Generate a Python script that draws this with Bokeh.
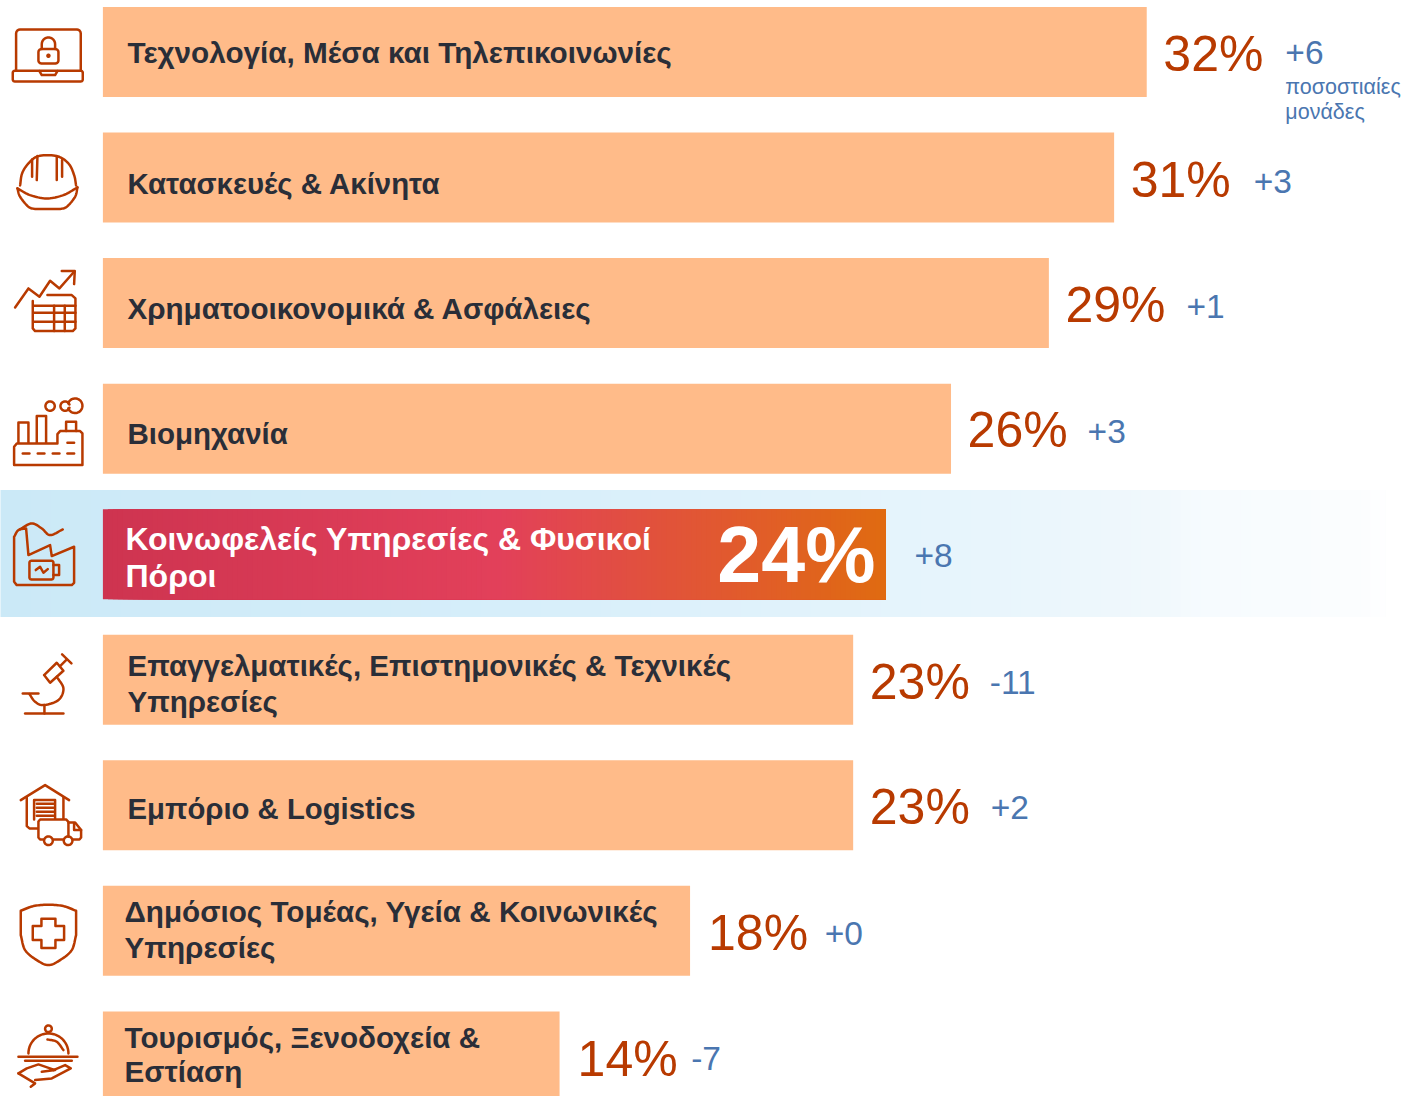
import numpy as np
from bokeh.embed import file_html
from bokeh.resources import INLINE
from bokeh.plotting import figure
from bokeh.models import Range1d, ColumnDataSource
from bokeh.core.properties import value

categories = ["Τεχνολογία, Μέσα και Τηλεπικοινωνίες", "Κατασκευές & Ακίνητα", "Χρηματοοικονομικά & Ασφάλειες",
              "Βιομηχανία", "Κοινωφελείς Υπηρεσίες & Φυσικοί\nΠόροι",
              "Επαγγελματικές, Επιστημονικές & Τεχνικές\nΥπηρεσίες", "Εμπόριο & Logistics",
              "Δημόσιος Τομέας, Υγεία & Κοινωνικές\nΥπηρεσίες", "Τουρισμός, Ξενοδοχεία &\nΕστίαση"]
shares = [32, 31, 29, 26, 24, 23, 23, 18, 14]
changes = [6, 3, 1, 3, 8, -11, 2, 0, -7]
unit_note = ["ποσοστιαίες", "μονάδες"]
HIGHLIGHT = 4

W, H = 1403, 1096
PX_PER_PCT, BAR_LEFT = 32.62, 102.4
ROW0, ROW_STEP = 51.5, 125.55
BAR_H = 90 / ROW_STEP
ORANGE, RUST, BLUE, INK = "#FFBB89", "#B83A00", "#4A76B0", "#2A2E38"
FONT = value("Liberation Sans")
BASE_FIX = 0.37  # baseline correction, em

p = figure(width=W, height=H, output_backend="svg", toolbar_location=None, tools="",
           x_range=Range1d(-BAR_LEFT / PX_PER_PCT, (W - BAR_LEFT) / PX_PER_PCT),
           y_range=Range1d((H - ROW0) / ROW_STEP, -ROW0 / ROW_STEP),
           x_axis_location=None, y_axis_location=None, min_border=0,
           outline_line_color=None)
p.grid.visible = False
p.background_fill_color = "white"
p.extra_x_ranges = {"px": Range1d(0, W)}
p.extra_y_ranges = {"px": Range1d(H, 0)}
PX = dict(x_range_name="px", y_range_name="px")


def lerp_stops(t, stops):
    c = [np.interp(t, [s[0] for s in stops], [s[1][k] for s in stops]) for k in range(3)]
    return "#%02x%02x%02x" % tuple(int(round(v)) for v in c)


# highlight band (drawn as overlapping strips, so no seams)
band_stops = [(0, (203, 233, 247)), (500, (214, 238, 250)), (980, (232, 245, 252)),
              (1150, (240, 248, 252)), (1200, (246, 251, 254)), (1350, (251, 253, 254)), (1385, (254, 254, 255))]
edges = np.concatenate([[-3], np.arange(10, 1385, 10)])
p.quad(left=edges, right=1385, top=489.5, bottom=616.5, line_color=None,
       fill_color=[lerp_stops(e, band_stops) for e in edges], **PX)

# bars
rows = list(range(len(shares)))
plain = [i for i in rows if i != HIGHLIGHT]
p.hbar(y=plain, left=0, right=[shares[i] for i in plain], height=BAR_H, fill_color=ORANGE, line_color=None)

# gradient highlighted bar
bar_stops = [(0, (206, 52, 80)), (0.5, (226, 64, 90)), (1, (224, 107, 16))]
fr = np.linspace(0, 1, 157, endpoint=False)
p.hbar(y=HIGHLIGHT, left=fr * shares[HIGHLIGHT], right=shares[HIGHLIGHT], height=BAR_H, line_color=None,
       fill_color=[lerp_stops(f, bar_stops) for f in fr])

# category labels, line by line: (row, line text, x offset, baseline offset from row centre)
label_x = [24.6, 24.6, 24.6, 24.6, 22.6, 24.6, 24.6, 21.6, 21.6]
label_base = [[11.5], [17], [16.5], [15.5], [-3.5, 33.5], [-3.5, 32.5], [14.5], [-8.5, 27.5], [-7.5, 26.5]]
label_size = [29.7, 29.4, 29.6, 29.5, 32, 29.5, 29.3, 29.65, 29.6]
lx, ly, lt, lxo, lyo, lc, ls = [], [], [], [], [], [], []
for i, c in enumerate(categories):
    for line, b in zip(c.split("\n"), label_base[i]):
        lx.append(0); ly.append(i); lt.append(line); lxo.append(label_x[i])
        lyo.append(b - BASE_FIX * label_size[i])
        lc.append("white" if i == HIGHLIGHT else INK); ls.append(f"{label_size[i]}px")
lab = ColumnDataSource(dict(x=lx, y=ly, t=lt, xo=lxo, yo=lyo, c=lc, s=ls))
p.text(x="x", y="y", text="t", x_offset="xo", y_offset="yo", text_color="c", source=lab,
       text_font=FONT, text_font_style="bold", text_font_size="s", text_baseline="alphabetic")

# share labels
pct_x = [16.6, 16.6, 16.6, 16.6, 0, 16.6, 16.6, 18, 18]
pct_base = [20.5, 20.5, 20.5, 20, 0, 20.5, 20, 20.5, 21]
pct = ColumnDataSource(dict(x=[shares[i] for i in plain], y=plain, t=[f"{shares[i]}%" for i in plain],
                            xo=[pct_x[i] for i in plain], yo=[pct_base[i] - BASE_FIX * 50 for i in plain]))
p.text(x="x", y="y", text="t", x_offset="xo", y_offset="yo", source=pct, text_color=RUST,
       text_font=FONT, text_font_size="50px", text_baseline="alphabetic")
p.text(x=[shares[HIGHLIGHT]], y=[HIGHLIGHT], text=[f"{shares[HIGHLIGHT]}%"], x_offset=-10.4, y_offset=30 - BASE_FIX * 79,
       text_color="white", text_font=FONT, text_font_style="bold", text_font_size="79px",
       text_align="right", text_baseline="alphabetic")

# change labels
chg_x = [138.6, 139.6, 137.6, 136.6, 28.6, 136.6, 137.6, 134.6, 131.6]
chg_base = [12.5, 16, 15.5, 15, 14, 15.5, 14.5, 15.5, 14.5]
chg = ColumnDataSource(dict(x=shares, y=rows, t=[f"{c:+d}" for c in changes], xo=chg_x,
                            yo=[b - BASE_FIX * 33.5 for b in chg_base]))
p.text(x="x", y="y", text="t", x_offset="xo", y_offset="yo", source=chg, text_color=BLUE,
       text_font=FONT, text_font_size="33.5px", text_baseline="alphabetic")
p.text(x=[shares[0], shares[0]], y=[0, 0], text=unit_note, x_offset=138.6,
       y_offset=[42.5 - BASE_FIX * 21.5, 67.5 - BASE_FIX * 21.5], text_color=BLUE,
       text_font=FONT, text_font_size="21.5px", text_baseline="alphabetic")


# ---------- pictograms (traced in 3x crop coordinates) ----------
def Z(pts, oy=0):
    a = np.array(pts, dtype=float)
    return a[:, 0] / 3 - 0.4, a[:, 1] / 3 + oy - 0.4


def smooth(pts, n=10):
    P = np.array(pts, dtype=float)
    P = np.vstack([2 * P[0] - P[1], P, 2 * P[-1] - P[-2]])
    out = []
    for i in range(1, len(P) - 2):
        for t in np.linspace(0, 1, n, endpoint=False):
            out.append(0.5 * (2 * P[i] + (P[i + 1] - P[i - 1]) * t
                              + (2 * P[i - 1] - 5 * P[i] + 4 * P[i + 1] - P[i + 2]) * t ** 2
                              + (3 * P[i] - P[i - 1] - 3 * P[i + 1] + P[i + 2]) * t ** 3))
    out.append(P[-2])
    return [tuple(q) for q in out]


def arc(cx, cy, r, a0=0, a1=360, n=36):
    t = np.radians(np.linspace(a0, a1, n))
    return [(cx + r * np.cos(v), cy + r * np.sin(v)) for v in t]


def rrect(x0, y0, x1, y1, r):
    return (arc(x0 + r, y0 + r, r, 180, 270, 6) + arc(x1 - r, y0 + r, r, 270, 360, 6)
            + arc(x1 - r, y1 - r, r, 0, 90, 6) + arc(x0 + r, y1 - r, r, 90, 180, 6) + [(x0, y0 + r)])


I1, I2, I3 = 0, 370, 740
icon_paths = [
    # laptop
    (I1, [(48, 212), (48, 100)] + arc(60, 100, 12, 180, 270, 5) + arc(230, 100, 12, 270, 360, 5) + [(242, 212)]),
    (I1, rrect(38, 212, 248, 244, 6)),
    (I1, [(118, 213), (125, 225), (165, 225), (172, 213)]),
    (I1, rrect(115, 147, 175, 190, 9)),
    (I1, [(125, 147)] + arc(145, 132, 20, 180, 360, 14) + [(165, 147)]),
    (I1, arc(145, 167, 3)),
    # helmet
    (I1, smooth([(60, 556), (66, 520), (85, 490), (115, 468), (170, 468), (205, 490), (222, 525), (228, 556)])),
    (I1, smooth([(52, 565), (90, 585), (140, 595), (190, 585), (232, 562)])),
    (I1, smooth([(52, 565), (60, 590), (85, 620), (105, 627)]) + smooth([(180, 627), (200, 620), (225, 590), (232, 562)])),
    (I1, [(112, 468), (110, 540)]), (I1, [(96, 478), (96, 530)]),
    (I1, [(170, 468), (170, 540)]), (I1, [(186, 480), (186, 530)]),
    # chart and table
    (I1, [(45, 922), (85, 865), (118, 890), (150, 842), (178, 865), (222, 815)]),
    (I1, [(185, 813), (224, 813), (222, 852)]),
    (I1, [(142, 885), (215, 885), (226, 895), (226, 985), (218, 993), (105, 993), (98, 985), (98, 903)]),
    (I1, [(100, 917), (226, 917)]), (I1, [(100, 938), (226, 938)]), (I1, [(100, 965), (226, 965)]),
    (I1, [(162, 917), (162, 993)]), (I1, [(194, 917), (194, 993)]),
    # factory
    (I2, [(42, 232), (42, 285), (247, 285), (247, 190), (240, 183), (180, 183), (172, 192), (172, 220), (50, 220), (42, 230)]),
    (I2, [(55, 218), (55, 157), (85, 157), (85, 218)]), (I2, [(110, 218), (110, 138), (138, 138), (138, 218)]),
    (I2, [(198, 183), (198, 155), (228, 155), (228, 183)]),
    (I2, [(68, 250), (88, 250)]), (I2, [(113, 250), (133, 250)]), (I2, [(158, 250), (178, 250)]),
    (I2, [(202, 250), (222, 250)]), (I2, [(202, 218), (222, 218)]),
    (I2, arc(150, 108, 14)),
    (I2, arc(225, 107, 22, 200, 520, 30) + arc(195, 108, 14, 20, 340, 22) + [arc(225, 107, 22, 200, 201, 2)[0]]),
    # power plant
    (I2, [(42, 635), (42, 500)] + smooth([(42, 500), (55, 480), (78, 475)]) + [(85, 555), (150, 525), (155, 558), (222, 530), (222, 638), (215, 645), (50, 645), (42, 635)]),
    (I2, smooth([(60, 477), (95, 460), (125, 475), (150, 495), (188, 478)])),
    (I2, rrect(88, 572, 160, 628, 6)), (I2, [(160, 585), (177, 585), (177, 615), (160, 615)]),
    (I2, [(107, 600), (120, 590), (130, 608), (143, 597)]),
    # microscope
    (I2, [(132, 915), (170, 878), (190, 902), (150, 938), (132, 915)]),
    (I2, [(180, 888), (198, 870)]), (I2, [(186, 853), (214, 880)]),
    (I2, smooth([(170, 920), (190, 955), (175, 990), (130, 1005), (105, 995), (88, 972)])),
    (I2, [(68, 970), (115, 970)]), (I2, [(75, 1030), (190, 1030)]), (I2, [(133, 1005), (133, 1030)]),
    # warehouse and truck
    (I3, [(62, 180), (135, 135), (207, 180)]), (I3, [(80, 172), (80, 258), (88, 265), (112, 265)]),
    (I3, [(190, 172), (190, 235)]), (I3, [(102, 238), (102, 180), (165, 180), (165, 235)]),
    (I3, [(110, 191), (160, 191)]), (I3, [(110, 203), (160, 203)]), (I3, [(110, 215), (160, 215)]), (I3, [(110, 227), (160, 227)]),
    (I3, [(130, 298), (120, 298), (115, 292), (115, 244), (120, 238), (198, 238), (205, 245), (205, 290)]),
    (I3, [(205, 247), (225, 247), (243, 270), (243, 292), (238, 298), (218, 298)]),
    (I3, [(222, 250), (222, 270), (243, 270)]), (I3, [(160, 298), (190, 298)]),
    (I3, arc(145, 302, 13)), (I3, arc(204, 302, 13)),
    # shield
    (I3, smooth([(62, 512), (100, 498), (145, 494), (190, 498), (228, 512)]) + [(228, 585)]
     + smooth([(228, 585), (215, 630), (180, 660), (145, 675), (110, 660), (75, 630), (62, 585)]) + [(62, 512)]),
    (I3, [(124, 536), (166, 536), (166, 558), (192, 558), (192, 600), (166, 600), (166, 624), (124, 624), (124, 600), (98, 600), (98, 558), (124, 558), (124, 536)]),
    # cloche and hand
    (I3, arc(145, 866, 10)),
    (I3, arc(145, 940, 60, 180, 360, 30)),
    (I3, smooth([(142, 898), (170, 905), (190, 930)])),
    (I3, [(55, 950), (232, 950)]), (I3, [(75, 962), (215, 962)]),
    (I3, [(55, 1000), (80, 985), (115, 973), (165, 990), (125, 995)]),
    (I3, [(55, 1000), (105, 1030), (92, 1040)]),
    (I3, [(105, 1020), (155, 1015), (212, 985), (195, 975), (160, 990)]),
]
ix, iy = [], []
for oy, pts in icon_paths:
    a, b = Z(pts, oy)
    ix.append(a); iy.append(b)
p.multi_line(xs=ix, ys=iy, line_color=RUST, line_width=2.5, line_join="round", line_cap="round", **PX)

open("out.html", "w").write(file_html(p, INLINE))
